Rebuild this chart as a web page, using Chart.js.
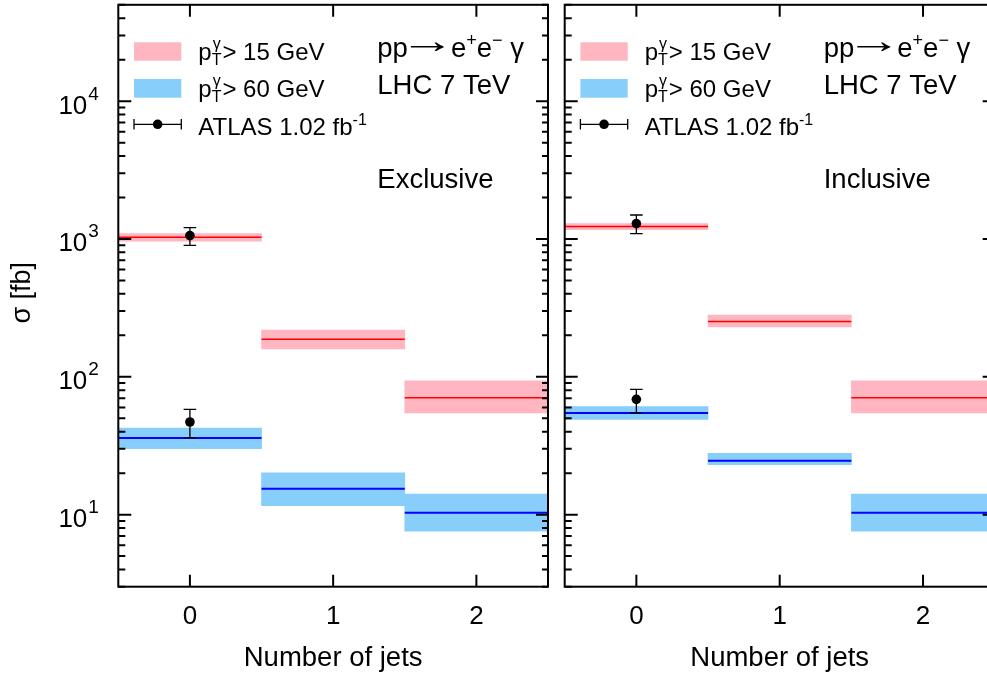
<!DOCTYPE html>
<html>
<head>
<meta charset="utf-8">
<script src="https://cdn.jsdelivr.net/npm/chart.js@4"></script>
<style>
  html, body { margin: 0; padding: 0; background: #fff; overflow: hidden; }
  #wrap { position: relative; width: 1010px; height: 675px; }
  #cLeft { position: absolute; left: 0; top: 0; }
  #cRight { position: absolute; left: 557px; top: 0; }
</style>
</head>
<body>
<div id="wrap">
  <canvas id="cLeft" width="557" height="675"></canvas>
  <canvas id="cRight" width="453" height="675"></canvas>
</div>
<script>
const FONT = '"Liberation Sans", Arial, sans-serif';

// bins (number of jets) and axis ticks
const jets = [0, 1, 2];
const xTicks = [0, 1, 2];
const yMajorTicks = [10, 100, 1000, 10000];
const yMajorExp = ['1', '2', '3', '4'];

// exclusive: theory central value and band, pT > 15 / pT > 60
const excl15 = [1030, 187, 70.5];
const excl15Lo = [962, 159, 54.6];
const excl15Hi = [1094, 218, 93.6];
const excl60 = [35.9, 15.4, 10.3];
const excl60Lo = [30.1, 11.6, 7.6];
const excl60Hi = [42.5, 20.1, 14.1];

// inclusive
const incl15 = [1230, 252, 70.5];
const incl15Lo = [1170, 230, 54.6];
const incl15Hi = [1293, 280, 93.6];
const incl60 = [54.7, 24.6, 10.3];
const incl60Lo = [49.1, 23.0, 7.6];
const incl60Hi = [60.7, 27.8, 14.1];

// ATLAS points (0 jets, pT > 15 and pT > 60)
const dataJets = [0, 0];
const exclData = [1058, 47];
const exclDataLo = [900, 36.1];
const exclDataHi = [1210, 58];
const inclData = [1293, 68.6];
const inclDataLo = [1094, 54.8];
const inclDataHi = [1493, 81];

const PINK = 'rgb(255,182,193)';
const BLUE = 'rgb(135,206,250)';

function bandData(lo, hi) {
  return jets.map((j, i) => ({ x: j, y: [lo[i], hi[i]] }));
}
// one flat segment per bin, broken between bins
function stepData(vals) {
  const out = [];
  jets.forEach((j, i) => {
    if (i > 0) out.push({ x: j - 0.5, y: null });
    out.push({ x: j - 0.5, y: vals[i] });
    out.push({ x: j + 0.5, y: vals[i] });
  });
  return out;
}

function drawRich(ctx, x, y, parts) {
  // parts: [text, size, dy]
  parts.forEach(p => {
    ctx.font = p[1] + 'px ' + FONT;
    ctx.fillText(p[0], x, y + p[2]);
    x += ctx.measureText(p[0]).width;
  });
  return x;
}

function drawPT(ctx, x, y, rest) {
  ctx.font = '24px ' + FONT;
  ctx.fillText('p', x, y);
  x += ctx.measureText('p').width;
  ctx.font = '16px ' + FONT;
  ctx.fillText('T', x, y + 5);
  ctx.fillText('γ', x + 1, y - 11);
  x += Math.max(ctx.measureText('T').width, ctx.measureText('γ').width) + 1;
  ctx.font = '24px ' + FONT;
  ctx.fillText(rest, x, y);
}

function drawProcess(ctx, x, y) {
  x = drawRich(ctx, x, y, [['pp', 27.5, 0]]);
  ctx.save();
  ctx.font = '27px ' + FONT;
  const m = ctx.measureText('\u2192');
  const ink = m.actualBoundingBoxLeft + m.actualBoundingBoxRight;
  const mid = (m.actualBoundingBoxAscent - m.actualBoundingBoxDescent) / 2;
  const sx = 35 / ink, sy = 1.35;
  ctx.translate(x + 2 + m.actualBoundingBoxLeft * sx, y - 10 + mid * sy);
  ctx.scale(sx, sy);
  ctx.fillText('\u2192', 0, 0);
  ctx.restore();
  x += 43;
  drawRich(ctx, x, y, [['e', 27.5, 0], ['+', 18, -11], ['e', 27.5, 0], ['\u2212', 18, -11], [' \u03B3', 27.5, 0]]);
}

function errorBar(ctx, px, yTop, yBot, cap) {
  ctx.moveTo(px, yTop); ctx.lineTo(px, yBot);
  ctx.moveTo(px - cap, yTop); ctx.lineTo(px + cap, yTop);
  ctx.moveTo(px - cap, yBot); ctx.lineTo(px + cap, yBot);
}

function panelPlugin(cfg) {
  return {
    id: 'panel',
    beforeDatasetDraw(chart, args) {
      if (args.index !== 0) return;
      const { ctx, scales: { x, y } } = chart;
      ctx.save();
      ctx.strokeStyle = '#000';
      ctx.lineWidth = 1.3;
      ctx.beginPath();
      dataJets.forEach((j, i) => {
        errorBar(ctx, x.getPixelForValue(j), y.getPixelForValue(cfg.hi[i]), y.getPixelForValue(cfg.lo[i]), 6.3);
      });
      ctx.stroke();
      ctx.restore();
    },
    afterDraw(chart) {
      const { ctx, chartArea: a, scales: { x, y } } = chart;
      ctx.save();
      // frame and inward ticks
      ctx.strokeStyle = '#000';
      ctx.lineWidth = 2;
      ctx.strokeRect(a.left, a.top, a.right - a.left, a.bottom - a.top);
      ctx.beginPath();
      xTicks.forEach(v => {
        const px = x.getPixelForValue(v);
        ctx.moveTo(px, a.bottom); ctx.lineTo(px, a.bottom - 12);
        ctx.moveTo(px, a.top); ctx.lineTo(px, a.top + 12);
      });
      for (let e = 0; e <= 4; e++) {
        for (let m = 1; m <= 9; m++) {
          const v = m * Math.pow(10, e);
          if (v < y.min || v > y.max) continue;
          const py = y.getPixelForValue(v);
          ctx.moveTo(a.left, py); ctx.lineTo(a.left + (m === 1 ? 13 : 7), py);
          ctx.moveTo(a.right, py); ctx.lineTo(a.right - (m === 1 ? 12 : 6), py);
        }
      }
      ctx.stroke();

      ctx.fillStyle = '#000';
      ctx.textBaseline = 'alphabetic';
      // x tick labels and title
      ctx.textAlign = 'center';
      ctx.font = '26px ' + FONT;
      xTicks.forEach(v => ctx.fillText(String(v), x.getPixelForValue(v), 624));
      ctx.font = '27.5px ' + FONT;
      ctx.fillText('Number of jets', (a.left + a.right) / 2, 665.5);

      if (cfg.yLabels) {
        yMajorTicks.forEach((v, i) => {
          const py = y.getPixelForValue(v);
          ctx.textAlign = 'right';
          ctx.font = '26px ' + FONT;
          ctx.fillText('10', a.left - 31, py + 12.5);
          ctx.textAlign = 'left';
          ctx.font = '19px ' + FONT;
          ctx.fillText(yMajorExp[i], a.left - 30, py - 1.5);
        });
        ctx.save();
        ctx.translate(23, (a.top + a.bottom) / 2 - 3);
        ctx.rotate(-Math.PI / 2);
        ctx.textAlign = 'center';
        ctx.textBaseline = 'middle';
        ctx.font = '27px ' + FONT;
        ctx.fillText('σ [fb]', 0, 0);
        ctx.restore();
      }

      // legend
      ctx.textAlign = 'left';
      const lx = a.left + 15.7, lw = 47.3, tx = a.left + 80;
      ctx.fillStyle = PINK;
      ctx.fillRect(lx, 42.3, lw, 18.4);
      ctx.fillStyle = BLUE;
      ctx.fillRect(lx, 79, lw, 18.7);
      ctx.fillStyle = '#000';
      drawPT(ctx, tx, 60, '> 15 GeV');
      drawPT(ctx, tx, 96.5, '> 60 GeV');
      ctx.beginPath();
      ctx.lineWidth = 1.3;
      ctx.moveTo(lx, 124.3); ctx.lineTo(lx + lw, 124.3);
      ctx.moveTo(lx, 119); ctx.lineTo(lx, 129.6);
      ctx.moveTo(lx + lw, 119); ctx.lineTo(lx + lw, 129.6);
      ctx.stroke();
      ctx.beginPath();
      ctx.arc(lx + lw / 2, 124.3, 4.8, 0, Math.PI * 2);
      ctx.fill();
      const ex = drawRich(ctx, tx, 135, [['ATLAS 1.02 fb', 24, 0]]);
      drawRich(ctx, ex, 135, [['-1', 16, -10]]);

      // process / label text
      const px = a.left + 259;
      drawProcess(ctx, px, 56.7);
      drawRich(ctx, px, 94.3, [['LHC 7 TeV', 27.5, 0]]);
      drawRich(ctx, px, 188.3, [[cfg.label, 27.5, 0]]);
      ctx.restore();
    }
  };
}

function makePanel(canvasId, cfg) {
  new Chart(document.getElementById(canvasId).getContext('2d'), {
    type: 'bar',
    data: {
      datasets: [
        {
          type: 'line', data: dataJets.map((j, i) => ({ x: j, y: cfg.pts[i] })),
          showLine: false, pointRadius: 4.8, pointBackgroundColor: '#000', pointBorderWidth: 0, order: 0
        },
        { type: 'line', data: stepData(cfg.c15), borderColor: '#ff0000', borderWidth: 1.5, pointRadius: 0, spanGaps: false, order: 1 },
        { type: 'line', data: stepData(cfg.c60), borderColor: '#0000ff', borderWidth: 2, pointRadius: 0, spanGaps: false, order: 1 },
        { data: bandData(cfg.lo15, cfg.hi15), backgroundColor: PINK, borderWidth: 0, order: 2 },
        { data: bandData(cfg.lo60, cfg.hi60), backgroundColor: BLUE, borderWidth: 0, order: 2 }
      ]
    },
    options: {
      responsive: false,
      animation: false,
      grouped: false,
      barPercentage: 1,
      categoryPercentage: 1,
      layout: { padding: cfg.padding },
      plugins: { legend: { display: false }, tooltip: { enabled: false } },
      scales: {
        x: {
          type: 'linear', min: -0.5, max: 2.5, offset: false, display: false,
          afterBuildTicks: s => { s.ticks = xTicks.map(v => ({ value: v })); }
        },
        y: { type: 'logarithmic', min: 3, max: 50000, display: false }
      }
    },
    plugins: [panelPlugin(cfg)]
  });
}

makePanel('cLeft', {
  label: 'Exclusive', yLabels: true,
  padding: { left: 118.3, right: 9, top: 4, bottom: 88.3 },
  c15: excl15, lo15: excl15Lo, hi15: excl15Hi,
  c60: excl60, lo60: excl60Lo, hi60: excl60Hi,
  pts: exclData, lo: exclDataLo, hi: exclDataHi
});
makePanel('cRight', {
  label: 'Inclusive', yLabels: false,
  padding: { left: 7.7, right: 15.3, top: 4, bottom: 88.3 },
  c15: incl15, lo15: incl15Lo, hi15: incl15Hi,
  c60: incl60, lo60: incl60Lo, hi60: incl60Hi,
  pts: inclData, lo: inclDataLo, hi: inclDataHi
});
</script>
</body>
</html>
